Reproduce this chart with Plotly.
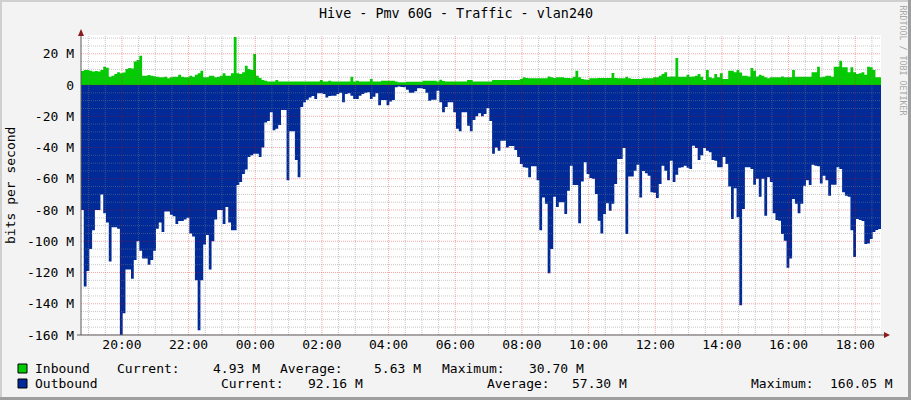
import plotly.graph_objects as go
import pandas as pd

# ---------------- data ----------------
TITLE = "Hive - Pmv 60G - Traffic - vlan240"
Y_LABEL = "bits per second"
WATERMARK = "RRDTOOL / TOBI OETIKER"
START = "2024-01-01 18:46:20"      # left edge of the 24 h window
STEP = "5min"                      # RRD sample step

# Inbound traffic (M bits/s), one value per 5-minute sample
inbound = [
    9, 9.6, 9.6, 9.2, 8.7, 9, 8.7, 9.6, 11.7, 11,
    5.3, 6, 7, 8.1, 7.5, 8, 10.2, 10.9, 10.5, 15.1,
    16, 18.8, 6, 6, 6.4, 6, 5.6, 5.3, 4.9, 4.9,
    5.3, 4.3, 4.9, 5.3, 5.3, 6.6, 5.3, 4.9, 5, 6,
    5.3, 6.6, 7.5, 9.2, 4.9, 4.9, 6, 6, 4.9, 5.3,
    6, 7.5, 6, 6, 7.5, 30.7, 7.5, 7, 8.1, 12.4,
    10.2, 9.6, 19.8, 6, 4.5, 3.2, 2.8, 2.3, 2.3, 2.3,
    3.2, 2.3, 2.3, 2.3, 2.3, 2.3, 2.3, 2.3, 2.3, 2.3,
    2.3, 2.3, 2.3, 2.3, 2.3, 2.3, 3.2, 2.3, 2.3, 2.8,
    2.3, 2.3, 2.3, 2.3, 2.3, 2.3, 2.3, 5.3, 2.3, 2.8,
    2.3, 2.3, 2.3, 2.3, 3.8, 2.3, 2.3, 2.3, 2.8, 2.8,
    2.8, 2.8, 2.8, 2.3, 1.7, 1.7, 1.7, 2.1, 2.1, 2.1,
    2.1, 2.1, 2.1, 2.8, 2.8, 2.8, 2.8, 2.8, 2.3, 3.4,
    2.5, 2.3, 2.3, 2.3, 2.3, 2.3, 2.3, 2.3, 2.3, 3.2,
    3.2, 2.3, 2.3, 2.3, 2.3, 2.3, 2.3, 2.3, 3.2, 3.2,
    3.2, 3.2, 3.2, 3.2, 3.2, 3.2, 3.2, 3.2, 3.8, 4.9,
    4.5, 4.3, 4.3, 4.3, 4.3, 4.3, 4.3, 4.3, 5.5, 5,
    4.5, 4.9, 4.9, 4.9, 4.5, 4.5, 4.3, 5.3, 9.2, 4.9,
    3.8, 3.6, 3.4, 4.3, 4.3, 4.3, 4.5, 4.5, 4.5, 4.5,
    4.5, 7.7, 4.5, 4.3, 4.3, 4.3, 5.3, 4.3, 3.8, 3.8,
    3.8, 3.8, 4.3, 4.3, 4.3, 4.3, 4.9, 4.9, 6, 7,
    8.1, 5.3, 5.5, 5.5, 17.3, 5.3, 5.3, 5.3, 6.6, 5.3,
    5.5, 6, 7, 5.3, 3.2, 9.6, 4.9, 4.3, 7, 4.9,
    7.5, 3.8, 3.8, 9.2, 9.2, 8.1, 9.6, 8, 6, 6,
    5.5, 10.9, 9.2, 5.5, 6.6, 6, 4.9, 4.3, 4.9, 4.9,
    4.9, 4.9, 5.5, 4.9, 4.9, 4.9, 9.6, 5.3, 5.3, 5.3,
    5.3, 5.3, 5.3, 8.1, 8.1, 11.7, 4.9, 5.3, 6, 6,
    5.3, 11.7, 11.7, 15.6, 11.3, 11.3, 8.1, 11.3, 8.1, 7,
    7.5, 8.1, 6.6, 11.7, 11.3, 9.6, 4.9, 4.93,
]

# Outbound traffic (M bits/s, drawn below zero), one value per 5-minute sample
outbound = [
    80, 129, 119, 105, 93, 80, 80, 70, 82, 88,
    113, 91, 91, 92, 160.05, 146, 118, 118, 124, 112,
    100, 106, 111, 111, 115, 112, 106, 92, 88, 94,
    81, 81, 83, 84, 89, 87, 87, 86, 85, 95,
    97, 125, 157, 125, 102, 96, 118, 100, 86, 80,
    80, 89, 78, 88, 93, 93, 64, 62, 57, 54,
    46, 45, 44, 44, 46, 40, 24, 23, 17.5, 29,
    28, 25.6, 16, 16, 61, 29.6, 29.6, 48, 59, 14,
    11, 9.4, 8, 7, 9, 5.3, 5.3, 5.8, 8, 7,
    6.8, 6.8, 5.8, 5, 11, 5.8, 5.3, 6.8, 9, 9,
    6.8, 5.8, 5, 4.7, 9, 7.5, 5.3, 13, 9.6, 9.6,
    13, 10.5, 9.6, 1.5, 1, 1.2, 1.5, 3, 5, 5,
    4, 2, 2, 2.5, 5, 10, 9.4, 9.4, 3.6, 11,
    17.5, 14, 11, 11, 17.5, 28, 29.6, 17.5, 17.5, 26,
    29.6, 22.4, 20, 18, 20, 18.6, 14.7, 23, 44, 40,
    42, 35.6, 35.6, 40, 39, 39, 41.6, 46, 50.5, 52.7,
    53, 59, 52, 52, 61, 93, 72, 76, 120.5, 105,
    71.5, 78, 75, 75, 82.5, 67.6, 51.6, 64, 64, 88.5,
    61.7, 49.5, 57, 59.5, 60, 69.8, 86.8, 95, 82.5, 75.7,
    80.4, 76, 63.4, 47.4, 47.4, 40.3, 95.4, 58.5, 58.5, 54.8,
    51, 72, 55, 56.5, 58, 68.7, 69, 72.3, 63.4, 51.6,
    54.8, 61, 48.4, 62, 57.4, 53, 52.7, 51.6, 53, 53.8,
    38.8, 40.3, 48, 45, 40.3, 42, 43, 48, 48.4, 52.7,
    52.7, 46, 50.5, 65, 85.8, 66, 84.7, 141, 79.4, 52.7,
    52.7, 53.8, 63.8, 60, 71.5, 60, 83.6, 59, 62, 82,
    86.4, 86.8, 95.4, 99.6, 117, 111, 73, 76, 82, 76,
    64.4, 61, 64, 51, 51.6, 52, 63, 58, 61, 70.8,
    63.8, 63.8, 52.7, 53.8, 68.7, 70.8, 71.5, 93, 110, 85.8,
    86.4, 87, 101.8, 101.4, 98.6, 94, 92.8, 92.16,
]

y_tick_values = [20, 0, -20, -40, -60, -80, -100, -120, -140, -160]
y_tick_labels = ["20 M", "0", "-20 M", "-40 M", "-60 M", "-80 M",
                 "-100 M", "-120 M", "-140 M", "-160 M"]

series_names = ["Inbound", "Outbound"]
series_colors = ["#00CC00", "#002A97"]
stat_labels = ["Current:", "Average:", "Maximum:"]
inbound_stats = ["4.93 M", "5.63 M", "30.70 M"]
outbound_stats = ["92.16 M", "57.30 M", "160.05 M"]

# ---------------- layout helpers ----------------
W, H = 911, 400
L, R, T, B = 81, 30, 35, 65
PW, PH = W - L - R, H - T - B
Y_MIN, Y_MAX = -160, 32
FONT = "DejaVu Sans Mono"


def px(X):
    return (X - L) / PW


def py(Y):
    return (H - B - Y) / PH


t0 = pd.Timestamp(START)
t_end = t0 + pd.Timedelta(hours=24)


def step_xy(vals, sign=1):
    times = list(pd.date_range(t0, periods=len(vals), freq=STEP))
    ys = [sign * v for v in vals]
    return times + [t_end], ys + [ys[-1]]


fig = go.Figure()
xi, yi = step_xy(inbound, 1)
xo, yo = step_xy(outbound, -1)
fig.add_trace(go.Scatter(x=xi, y=yi, mode="lines", line=dict(width=0, shape="hv", color=series_colors[0]),
                         fill="tozeroy", fillcolor=series_colors[0], name=series_names[0], hoverinfo="skip"))
fig.add_trace(go.Scatter(x=xo, y=yo, mode="lines", line=dict(width=0, shape="hv", color=series_colors[1]),
                         fill="tozeroy", fillcolor=series_colors[1], name=series_names[1], hoverinfo="skip"))

shapes = []
# image border (3D look)
shapes.append(dict(type="rect", xref="paper", yref="paper", x0=px(0), x1=px(W), y0=py(H), y1=py(H - 3),
                   fillcolor="#9E9E9E", line_width=0, layer="below"))
shapes.append(dict(type="rect", xref="paper", yref="paper", x0=px(W - 3), x1=px(W), y0=py(H), y1=py(0),
                   fillcolor="#9E9E9E", line_width=0, layer="below"))
shapes.append(dict(type="rect", xref="paper", yref="paper", x0=px(0), x1=px(W - 3), y0=py(2), y1=py(0),
                   fillcolor="#CFCFCF", line_width=0, layer="below"))
shapes.append(dict(type="rect", xref="paper", yref="paper", x0=px(0), x1=px(2), y0=py(H - 3), y1=py(0),
                   fillcolor="#CFCFCF", line_width=0, layer="below"))

MINOR = "rgba(130,130,130,0.45)"
MAJOR = "rgba(235,0,0,0.35)"
DOT = "1px,1px"

# horizontal grid: minor every 5 M, major every 20 M
v = Y_MIN
while v <= Y_MAX:
    major = (v % 20 == 0)
    shapes.append(dict(type="line", xref="paper", yref="y", x0=0, x1=1, y0=v, y1=v,
                       line=dict(color=MAJOR if major else MINOR, width=1, dash=DOT), layer="above"))
    v += 5

# vertical grid: minor every 30 min, major every 2 h
t = t0.ceil("30min")
while t < t_end:
    major = (t.minute == 0 and t.hour % 2 == 0)
    shapes.append(dict(type="line", xref="x", yref="paper", x0=t, x1=t, y0=0, y1=1,
                       line=dict(color=MAJOR if major else MINOR, width=1, dash=DOT), layer="above"))
    t += pd.Timedelta(minutes=30)

AXIS = "#5A5A5A"
ARROW = "#8B1A1A"
# axis lines
shapes.append(dict(type="line", xref="paper", yref="paper", x0=px(81), x1=px(81), y0=py(335), y1=py(33),
                   line=dict(color=AXIS, width=1), layer="above"))
shapes.append(dict(type="line", xref="paper", yref="paper", x0=px(77), x1=px(885), y0=py(335), y1=py(335),
                   line=dict(color=AXIS, width=1), layer="above"))
# arrows
shapes.append(dict(type="path", xref="paper", yref="paper",
                   path=f"M {px(78)} {py(36)} L {px(84)} {py(36)} L {px(81)} {py(29)} Z",
                   fillcolor=ARROW, line=dict(color=ARROW, width=0), layer="above"))
shapes.append(dict(type="path", xref="paper", yref="paper",
                   path=f"M {px(884)} {py(332)} L {px(884)} {py(338)} L {px(890)} {py(335)} Z",
                   fillcolor=ARROW, line=dict(color=ARROW, width=0), layer="above"))

ann = []
ann.append(dict(text=TITLE, x=px(455.5), y=py(14), xref="paper", yref="paper", showarrow=False,
                xanchor="center", yanchor="middle", font=dict(family=FONT, size=13.4, color="black")))
ann.append(dict(text=Y_LABEL, x=px(10), y=py(186), xref="paper", yref="paper", showarrow=False,
                textangle=-90, xanchor="center", yanchor="middle", font=dict(family=FONT, size=13, color="black")))
ann.append(dict(text=WATERMARK, x=px(902.5), y=py(60), xref="paper", yref="paper", showarrow=False,
                textangle=90, xanchor="center", yanchor="middle", font=dict(family=FONT, size=8.3, color="#A8A8A8")))

# legend rows
rows = [
    (series_names[0], series_colors[0], inbound_stats, 368.5,
     [116.3, 279.2, 441.0], [260.6, 422.3, 584.6]),
    (series_names[1], series_colors[1], outbound_stats, 383.5,
     [219.9, 485.7, 750.4], [363.6, 628.2, 894.1]),
]
for name, color, stats, Yc, lab_x, val_x in rows:
    shapes.append(dict(type="rect", xref="paper", yref="paper", x0=px(18), x1=px(27), y0=py(Yc + 4.5), y1=py(Yc - 4.5),
                       fillcolor=color, line=dict(color="black", width=1), layer="above"))
    ann.append(dict(text=name, x=px(32.5), y=py(Yc), xref="paper", yref="paper", showarrow=False,
                    xanchor="left", yanchor="middle", font=dict(family=FONT, size=13, color="black")))
    for lab, lx, val, vx in zip(stat_labels, lab_x, stats, val_x):
        ann.append(dict(text=lab, x=px(lx - 1), y=py(Yc), xref="paper", yref="paper", showarrow=False,
                        xanchor="left", yanchor="middle", font=dict(family=FONT, size=13, color="black")))
        ann.append(dict(text=val, x=px(vx + 1), y=py(Yc), xref="paper", yref="paper", showarrow=False,
                        xanchor="right", yanchor="middle", font=dict(family=FONT, size=13, color="black")))

fig.update_layout(
    width=W, height=H, autosize=False,
    margin=dict(l=L, r=R, t=T, b=B, pad=0),
    paper_bgcolor="#F3F3F3", plot_bgcolor="#FFFFFF",
    showlegend=False,
    shapes=shapes, annotations=ann,
    xaxis=dict(type="date", range=[t0, t_end], tickmode="linear", tick0="2024-01-01 20:00:00",
               dtick=7200000, tickformat="%H:%M", showgrid=False, zeroline=False, showline=False,
               ticks="", tickfont=dict(family=FONT, size=13, color="black"), fixedrange=True),
    yaxis=dict(range=[Y_MIN, Y_MAX], tickmode="array", tickvals=y_tick_values, ticktext=y_tick_labels,
               showgrid=False, zeroline=False, showline=False, ticks="", ticklabelstandoff=6,
               tickfont=dict(family=FONT, size=13, color="black"), fixedrange=True),
)

fig.write_html("out.html", config={"displayModeBar": False},
               post_script="document.body.style.margin='0';document.body.style.padding='0';"
                           "document.body.style.overflow='hidden';")
